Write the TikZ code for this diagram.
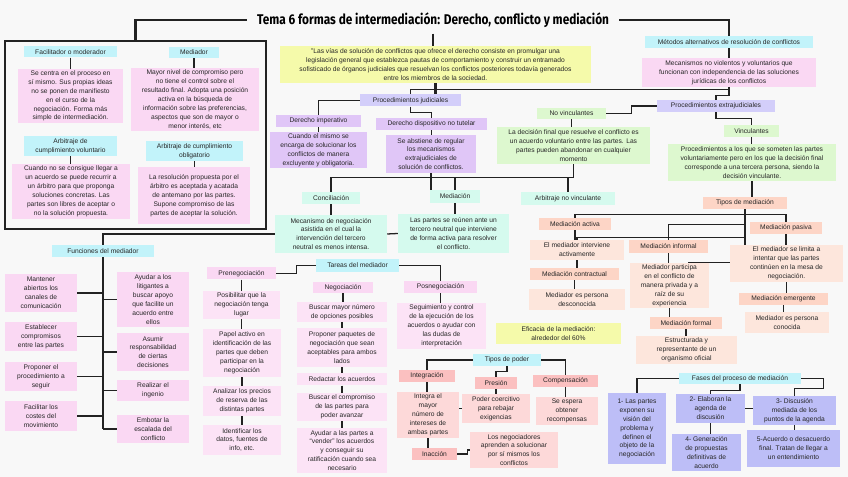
\documentclass[tikz,border=0pt]{standalone}
\usepackage{graphicx}
\usepackage{fontspec}
\setmainfont{Liberation Sans}
\newfontfamily\titlefont{Fira Sans}
\usetikzlibrary{calc}
\definecolor{mapbg}{HTML}{F8F8F8}
\definecolor{mapline}{HTML}{222222}
\definecolor{mapcyan}{HTML}{C2F3FA}
\definecolor{mappink}{HTML}{FAD8F3}
\definecolor{mappinkl}{HTML}{FCE3F6}
\definecolor{maplav}{HTML}{E0C6F7}
\definecolor{mapblue}{HTML}{D3CEFA}
\definecolor{mapyellow}{HTML}{F5FAAA}
\definecolor{mapgreen}{HTML}{DDF8CF}
\definecolor{mapmint}{HTML}{D5FAEE}
\definecolor{mapsalmon}{HTML}{FDD5C6}
\definecolor{mapsalmonl}{HTML}{FDE6DC}
\definecolor{mapred}{HTML}{FBC0C0}
\definecolor{mapredl}{HTML}{FDD9D9}
\definecolor{mapfase}{HTML}{BDBEF7}
\pgfdeclarelayer{paper}
\pgfdeclarelayer{wires}
\pgfsetlayers{paper,wires,main}
\tikzset{
  x=0.3mm, y=-0.3mm,
  bx/.style={rectangle, inner sep=1pt, align=center, text=black!85,
             font=\fontsize{5.7}{7.6}\selectfont},
  wh/.style 2 args={minimum width=#1*0.3mm, minimum height=#2*0.3mm},
  cyanbox/.style={bx, fill=mapcyan},
  pinkbox/.style={bx, fill=mappink},
  pinklbox/.style={bx, fill=mappinkl},
  lavbox/.style={bx, fill=maplav},
  bluebox/.style={bx, fill=mapblue},
  yelbox/.style={bx, fill=mapyellow},
  grnbox/.style={bx, fill=mapgreen},
  mintbox/.style={bx, fill=mapmint},
  salbox/.style={bx, fill=mapsalmon},
  sallbox/.style={bx, fill=mapsalmonl},
  redbox/.style={bx, fill=mapred},
  redlbox/.style={bx, fill=mapredl},
  fasebox/.style={bx, fill=mapfase},
  frame/.style={rectangle, draw=mapline, line width=1.8pt, inner sep=0pt},
  conn/.style={draw=mapline, line width=1.1pt},
  thk/.style={draw=mapline, line width=1.8pt},
}

\begin{document}
\begin{tikzpicture}
  \begin{pgfonlayer}{paper}
    \path[use as bounding box, fill=mapbg] (0,0) rectangle (848,477);
  \end{pgfonlayer}

  % title
  \node[font=\titlefont\bfseries\fontsize{12}{13}\selectfont, inner xsep=3mm, inner ysep=5pt] (ttl) at (433,20)
    {\resizebox{105.6mm}{\height}{Tema 6 formas de intermediación: Derecho, conflicto y mediación}};

  % framed block, left
  \node[frame, wh={261}{188}] (bigbox) at (135.5,135) {};
  \node[cyanbox, wh={93}{11}] (facil) at (70.5,52) {Facilitador o moderador};
  \node[pinkbox, wh={105}{54}] (facildesc) at (70.5,96) {Se centra en el proceso en\\sí mismo. Sus propias ideas\\no se ponen de manifiesto\\en el curso de la\\negociación. Forma más\\simple de intermediación.};
  \node[cyanbox, wh={50}{11}] (media) at (194,52.5) {Mediador};
  \node[pinkbox, wh={128}{63}] (mediadesc) at (195,99.5) {Mayor nivel de compromiso pero\\no tiene el control sobre el\\resultado final. Adopta una posición\\activa en la búsqueda de\\información sobre las preferencias,\\aspectos que son de mayor o\\menor interés, etc};
  \node[cyanbox, wh={93}{20}] (arbvol) at (70.5,146) {Arbitraje de\\cumplimiento voluntario};
  \node[pinkbox, wh={118}{55}] (arbvoldesc) at (71,191.5) {Cuando no se consigue llegar a\\un acuerdo se puede recurrir a\\un árbitro para que proponga\\soluciones concretas. Las\\partes son libres de aceptar o\\no la solución propuesta.};
  \node[cyanbox, wh={97}{20}] (arbobl) at (194.5,151) {Arbitraje de cumplimiento\\obligatorio};
  \node[pinkbox, wh={112}{57}] (arbobldesc) at (194,195.5) {La resolución propuesta por el\\árbitro es aceptada y acatada\\de antemano por las partes.\\Supone compromiso de las\\partes de aceptar la solución.};

  % judicial column
  \node[yelbox, wh={311}{37}] (yellow) at (435.5,64.5) {"Las vías de solución de conflictos que ofrece el derecho consiste en promulgar una\\legislación general que establezca pautas de comportamiento y construir un entramado\\sofisticado de órganos judiciales que resuelvan los conflictos posteriores todavía generados\\entre los miembros de la sociedad.};
  \node[bluebox, wh={101}{12}] (judic) at (410.5,100.5) {Procedimientos judiciales};
  \node[lavbox, wh={85}{12}] (imper) at (318.5,121) {Derecho imperativo};
  \node[lavbox, wh={97}{36}] (imperdesc) at (318.5,150) {Cuando el mismo se\\encarga de solucionar los\\conflictos de manera\\excluyente y obligatoria.};
  \node[lavbox, wh={111}{12}] (dispo) at (431.5,124) {Derecho dispositivo no tutelar};
  \node[lavbox, wh={90}{38}] (dispdesc) at (431,154) {Se abstiene de regular\\los mecanismos\\extrajudiciales de\\solución de conflictos.};
  \node[mintbox, wh={58}{12}] (concil) at (331,198) {Conciliación};
  \node[mintbox, wh={112}{38}] (concildesc) at (331,234) {Mecanismo de negociación\\asistida en el cual la\\intervención del tercero\\neutral es menos intensa.};
  \node[mintbox, wh={50}{13}] (medi) at (455,196.5) {Mediación};
  \node[mintbox, wh={111}{39}] (medidesc) at (453.5,233.5) {Las partes se reúnen ante un\\tercero neutral que interviene\\de forma activa para resolver\\el conflicto.};

  % alternative methods
  \node[cyanbox, wh={168}{12}] (metodos) at (729,42) {Métodos alternativos de resolución de conflictos};
  \node[pinkbox, wh={174}{29}] (mpink) at (729,72.5) {Mecanismos no violentos y voluntarios que\\funcionan con independencia de las soluciones\\jurídicas de los conflictos};
  \node[bluebox, wh={118}{12}] (extraj) at (716,106) {Procedimientos extrajudiciales};
  \node[grnbox, wh={69}{11}] (novinc) at (571.5,113.5) {No vinculantes};
  \node[grnbox, wh={153}{37}] (novincdesc) at (573.5,145.5) {La decisión final que resuelve el conflicto es\\un acuerdo voluntario entre las partes. Las\\partes pueden abandonar en cualquier\\momento};
  \node[mintbox, wh={94}{13}] (arbnv) at (568,198.5) {Arbitraje no vinculante};
  \node[grnbox, wh={55}{12}] (vinc) at (751.5,131) {Vinculantes};
  \node[grnbox, wh={168}{37}] (vincdesc) at (752,162.5) {Procedimientos a los que se someten las partes\\voluntariamente pero en los que la decisión final\\corresponde a una tercera persona, siendo la\\decisión vinculante.};

  % types of mediation
  \node[salbox, wh={84}{12}] (tiposmed) at (745,203) {Tipos de mediación};
  \node[salbox, wh={72}{12}] (activa) at (575,224) {Mediación activa};
  \node[sallbox, wh={94}{20}] (activadesc) at (577,250) {El mediador interviene\\activamente};
  \node[salbox, wh={89}{12}] (contract) at (574.5,274) {Mediación contractual};
  \node[sallbox, wh={96}{21}] (contdesc) at (577,299.5) {Mediador es persona\\desconocida};
  \node[yelbox, wh={125}{21}] (eficacia) at (558.5,333.5) {Eficacia de la mediación:\\alrededor del 60\%};
  \node[salbox, wh={79}{13}] (informal) at (668.5,246.5) {Mediación informal};
  \node[sallbox, wh={79}{45}] (infdesc) at (669.5,285.5) {Mediador participa\\en el conflicto de\\manera privada y a\\raíz de su\\experiencia};
  \node[salbox, wh={72}{12}] (formal) at (686,323) {Mediación formal};
  \node[sallbox, wh={101}{28}] (formdesc) at (686.5,350) {Estructurada y\\representante de un\\organismo oficial};
  \node[salbox, wh={72}{12}] (pasiva) at (786,228) {Mediación pasiva};
  \node[sallbox, wh={113}{37}] (pasdesc) at (786.5,263.5) {El mediador se limita a\\intentar que las partes\\continúen en la mesa de\\negociación.};
  \node[salbox, wh={89}{12}] (emergente) at (783.5,299) {Mediación emergente};
  \node[sallbox, wh={84}{21}] (emerdesc) at (787,322.5) {Mediador es persona\\conocida};

  % functions of the mediator
  \node[cyanbox, wh={102}{12}] (funciones) at (103,251) {Funciones del mediador};
  \node[pinkbox, wh={72}{38}] (fl1) at (41,293) {Mantener\\abiertos los\\canales de\\comunicación};
  \node[pinkbox, wh={72}{29}] (fl2) at (41,336.5) {Establecer\\compromisos\\entre las partes};
  \node[pinkbox, wh={72}{29}] (fl3) at (41,376.5) {Proponer el\\procedimiento a\\seguir};
  \node[pinkbox, wh={72}{30}] (fl4) at (41,416) {Facilitar los\\costes del\\movimiento};
  \node[pinkbox, wh={72}{55}] (fr1) at (153,299.5) {Ayudar a los\\litigantes a\\buscar apoyo\\que facilite un\\acuerdo entre\\ellos};
  \node[pinkbox, wh={72}{38}] (fr2) at (153,352) {Asumir\\responsabilidad\\de ciertas\\decisiones};
  \node[pinkbox, wh={72}{21}] (fr3) at (153,390.5) {Realizar el\\ingenio};
  \node[pinkbox, wh={72}{28}] (fr4) at (153,429) {Embotar la\\escalada del\\conflicto};

  % tasks of the mediator
  \node[cyanbox, wh={83}{13}] (tareas) at (357.5,265.5) {Tareas del mediador};
  \node[pinkbox, wh={69}{12}] (preneg) at (241.5,273.5) {Prenegociación};
  \node[pinklbox, wh={77}{28}] (pre1) at (241.5,305) {Posibilitar que la\\negociación tenga\\lugar};
  \node[pinklbox, wh={78}{48}] (pre2) at (242,353) {Papel activo en\\identificación de las\\partes que deben\\participar en la\\negociación};
  \node[pinklbox, wh={78}{30}] (pre3) at (242,401) {Analizar los precios\\de reserva de las\\distintas partes};
  \node[pinklbox, wh={78}{30}] (pre4) at (242,440) {Identificar los\\datos, fuentes de\\info, etc.};
  \node[pinkbox, wh={60}{11}] (nego) at (343,287.5) {Negociación};
  \node[pinklbox, wh={90}{20}] (neg1) at (342,312) {Buscar mayor número\\de opciones posibles};
  \node[pinklbox, wh={90}{39}] (neg2) at (342,347.5) {Proponer paquetes de\\negociación que sean\\aceptables para ambos\\lados};
  \node[pinklbox, wh={90}{12}] (neg3) at (342,379.5) {Redactar los acuerdos};
  \node[pinklbox, wh={90}{28}] (neg4) at (342,407) {Buscar el compromiso\\de las partes para\\poder avanzar};
  \node[pinklbox, wh={90}{45}] (neg5) at (342,450.5) {Ayudar a las partes a\\“vender” los acuerdos\\y conseguir su\\ratificación cuando sea\\necesario};
  \node[pinkbox, wh={73}{12}] (posneg) at (440.5,287) {Posnegociación};
  \node[pinklbox, wh={89}{46}] (posdesc) at (441.5,326) {Seguimiento y control\\de la ejecución de los\\acuerdos o ayudar con\\las dudas de\\interpretación};

  % types of power
  \node[cyanbox, wh={68}{12}] (tpoder) at (507,360) {Tipos de poder};
  \node[redbox, wh={56}{12}] (integ) at (427,376) {Integración};
  \node[redlbox, wh={62}{46}] (integdesc) at (428,415) {Integra el\\mayor\\número de\\intereses de\\ambas partes};
  \node[redbox, wh={45}{12}] (inaccion) at (434.5,454) {Inacción};
  \node[redlbox, wh={88}{36}] (losneg) at (514,450) {Los negociadores\\aprenden a solucionar\\por sí mismos los\\conflictos};
  \node[redbox, wh={42}{12}] (presion) at (496,383) {Presión};
  \node[redlbox, wh={68}{29}] (presdesc) at (496,408.5) {Poder coercitivo\\para rebajar\\exigencias};
  \node[redbox, wh={65}{12}] (compens) at (565.5,381) {Compensación};
  \node[redlbox, wh={62}{28}] (compdesc) at (567,411) {Se espera\\obtener\\recompensas};

  % phases
  \node[cyanbox, wh={122}{11}] (fases) at (740,378.5) {Fases del proceso de mediación};
  \node[fasebox, wh={58}{71}] (f1) at (637,428.5) {1- Las partes\\exponen su\\visión del\\problema y\\definen el\\objeto de la\\negociación};
  \node[fasebox, wh={69}{29}] (f2) at (710.5,408.5) {2- Elaboran la\\agenda de\\discusión};
  \node[fasebox, wh={83}{29}] (f3) at (794.5,410.5) {3- Discusión\\mediada de los\\puntos de la agenda};
  \node[fasebox, wh={69}{37}] (f4) at (706.5,452.5) {4- Generación\\de propuestas\\definitivas de\\acuerdo};
  \node[fasebox, wh={93}{37}] (f5) at (793.5,448.5) {5-Acuerdo o desacuerdo\\final. Tratan de llegar a\\un entendimiento};

  \begin{pgfonlayer}{wires}
    % trunk lines
    \draw[thk] (ttl.west) -| (bigbox.north);
    \draw[thk] (ttl.east) -| (metodos.north);
    \draw[thk] (ttl.south) -- (ttl.south |- yellow.north);
    \draw[thk] (yellow.south) -- (yellow.south |- judic.north);
    \draw[conn] (judic.north) -- ++(0,-5) -| (mpink.south);
    \draw[conn] (mpink.south) -- ++(0,8) -| (extraj.north);
    \draw[conn] (extraj.west) -- ++(-25,0) |- (novinc.east);
    \draw[conn] (extraj.south) -- ++(0,6) -| (vinc.north);
    \draw[conn] (judic.west) -| (imper.north);
    \draw[conn] (judic.south) -- ++(0,6) -| (dispo.north);
    \draw[conn] (concil.north) -- ++(0,-14) -| (novincdesc.south);
    \draw[conn] (arbnv.north) -- ++(0,-14);
    \draw[conn] (medi.north) -- ++(0,-12);
    \draw[thk] (dispdesc.south) -- (dispdesc.south |- medi.north);
    \draw[conn] (concildesc.east) -- (medidesc.west);

    % functions
    \draw[thk] (funciones.north) |- (concildesc.west);
    \draw[thk] (funciones.south) -- (funciones.south |- fr4.west);
    \foreach \l in {fl1,fl2,fl3,fl4}{ \draw[conn] (\l.east) -- (\l.east -| funciones.south); }
    \foreach \r in {fr1,fr2,fr3,fr4}{ \draw[conn] (\r.west) -- (\r.west -| funciones.south); }

    % tasks, power, phases
    \draw[conn] (tareas.west) -- ++(-19,0) |- (preneg.east);
    \draw[conn] (tareas.east) -| (posneg.north);
    \draw[conn] (tpoder.west) -| (integ.north);
    \draw[conn] (tpoder.south) -- ++(0,5) -| (presion.north);
    \draw[conn] (tpoder.east) -| (compens.north);
    \draw[conn] (inaccion.east) -- ++(10,0) |- (losneg.west);
    \draw[conn] (integdesc.east |- presdesc.west) -- (presdesc.west);
    \draw[conn] (fases.west) -| (f1.north);
    \draw[conn] (fases.south) -- ++(0,6) -| (f2.north);
    \draw[conn] (fases.east) -- ++(22,0) -- ++(0,10) -| (f3.north);
    \draw[conn] (f2.east) -- (f2.east -| f3.west);

    % mediation types
    \draw[conn] (tiposmed.south) -- ++(0,5) -| (activa.north);
    \draw[conn] (tiposmed.south) -- ++(0,5) -| (pasiva.north);
    \draw[conn] (tiposmed.south) -- ++(0,15) -| (informal.north);
    \draw[thk] (tiposmed.south) -- (tiposmed.south |- pasdesc.north);
    \draw[conn] (activadesc.north) -- ++(0,-2) -| (tiposmed.south);
    \draw[conn] ([xshift=-6.3mm]infdesc.north east) -- (infdesc.north east -| pasdesc.west);

    \foreach \a/\b in {facil/facildesc, media/mediadesc, arbvol/arbvoldesc, arbobl/arbobldesc,
      imper/imperdesc, dispo/dispdesc, concil/concildesc, medi/medidesc,
      metodos/mpink, novinc/novincdesc, vinc/vincdesc, vincdesc/tiposmed,
      activa/activadesc, activadesc/contract, contract/contdesc,
      informal/infdesc, infdesc/formal, formal/formdesc,
      pasiva/pasdesc, pasdesc/emergente, emergente/emerdesc,
      preneg/pre1, pre1/pre2, pre2/pre3, pre3/pre4,
      nego/neg1, neg1/neg2, neg2/neg3, neg3/neg4, neg4/neg5,
      posneg/posdesc, integ/integdesc, integdesc/inaccion,
      presion/presdesc, compens/compdesc, f2/f4, f3/f5}
      { \draw[conn] (\a.south) -- (\a.south |- \b.north); }
  \end{pgfonlayer}
\end{tikzpicture}
\end{document}
